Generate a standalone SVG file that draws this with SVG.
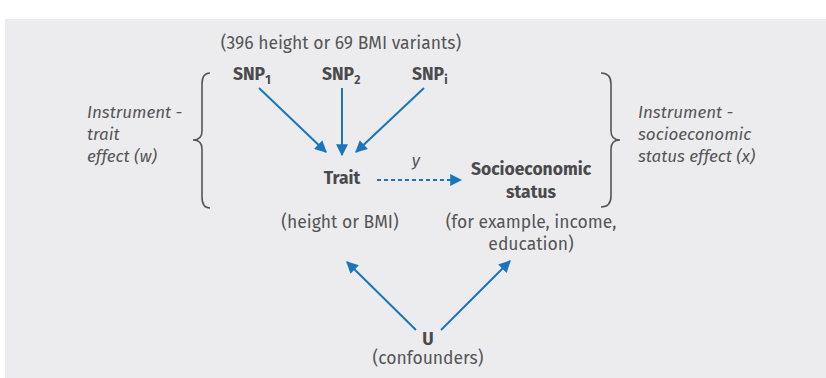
<svg xmlns="http://www.w3.org/2000/svg" width="826" height="378" viewBox="0 0 826 378">
<style>
text{font-family:"Fira Sans","Open Sans","Noto Sans",sans-serif;fill:#555558;font-size:17.5px}
.b{font-weight:bold;fill:#4a4a4d}
.i{font-style:italic;font-size:17px}
.c{text-anchor:middle}
.brace{fill:none;stroke:#555558;stroke-width:1.6}
.arr{stroke:#1b75bb;stroke-width:2;fill:none}
</style>
<defs>
<marker id="ah" viewBox="0 0 10 10" refX="9" refY="5" markerWidth="6" markerHeight="6" orient="auto" markerUnits="strokeWidth"><path d="M0,0 L10,5 L0,10 z" fill="#1b75bb"/></marker>
</defs>
<rect x="5" y="19" width="821" height="359" fill="#ececee"/>
<text class="c" x="341" y="49">(396 height or 69 BMI variants)</text>
<g id="snp1"><text class="b" x="233" y="80">SNP<tspan font-size="12" dy="4">1</tspan></text></g>
<g id="snp2"><text class="b" x="322" y="80">SNP<tspan font-size="12" dy="4">2</tspan></text></g>
<g id="snpi"><text class="b" x="412" y="80">SNP<tspan font-size="12" dy="4">i</tspan></text></g>
<g id="trait"><text class="b c" x="342" y="184">Trait</text><text class="c" x="340" y="228">(height or BMI)</text></g>
<g id="ses"><text class="b c" x="531" y="175">Socioeconomic</text><text class="b c" x="531" y="198">status</text>
<text class="c" x="531" y="228">(for example, income,</text><text class="c" x="531" y="250">education)</text></g>
<g id="u"><text class="b c" x="428" y="345">U</text><text class="c" x="428" y="364">(confounders)</text></g>
<g id="left-label"><text class="i" x="87" y="118">Instrument -</text><text class="i" x="87" y="140">trait</text><text class="i" x="87" y="162">effect (w)</text>
<path class="brace" d="M210,73 Q202,73 202,84 L202,131 Q202,140 193,140 Q202,140 202,149 L202,197 Q202,208 210,208"/></g>
<g id="right-label"><text class="i" x="638" y="118">Instrument -</text><text class="i" x="638" y="140">socioeconomic</text><text class="i" x="638" y="162">status effect (x)</text>
<path class="brace" d="M601,73 Q611,73 611,84 L611,131 Q611,140 620,140 Q611,140 611,149 L611,196 Q611,207 601,207"/></g>
<g id="connectors">
<line class="arr" x1="259" y1="88" x2="326" y2="152" marker-end="url(#ah)"/>
<line class="arr" x1="342" y1="88" x2="342" y2="155" marker-end="url(#ah)"/>
<line class="arr" x1="424" y1="88" x2="356" y2="152" marker-end="url(#ah)"/>
<line class="arr" x1="377" y1="180" x2="461" y2="180" stroke-dasharray="4,3" marker-end="url(#ah)"/>
<text class="i c" x="416" y="166">y</text>
<line class="arr" x1="416" y1="330" x2="347" y2="262" marker-end="url(#ah)"/>
<line class="arr" x1="441" y1="330" x2="510" y2="261" marker-end="url(#ah)"/>
</g>
</svg>
